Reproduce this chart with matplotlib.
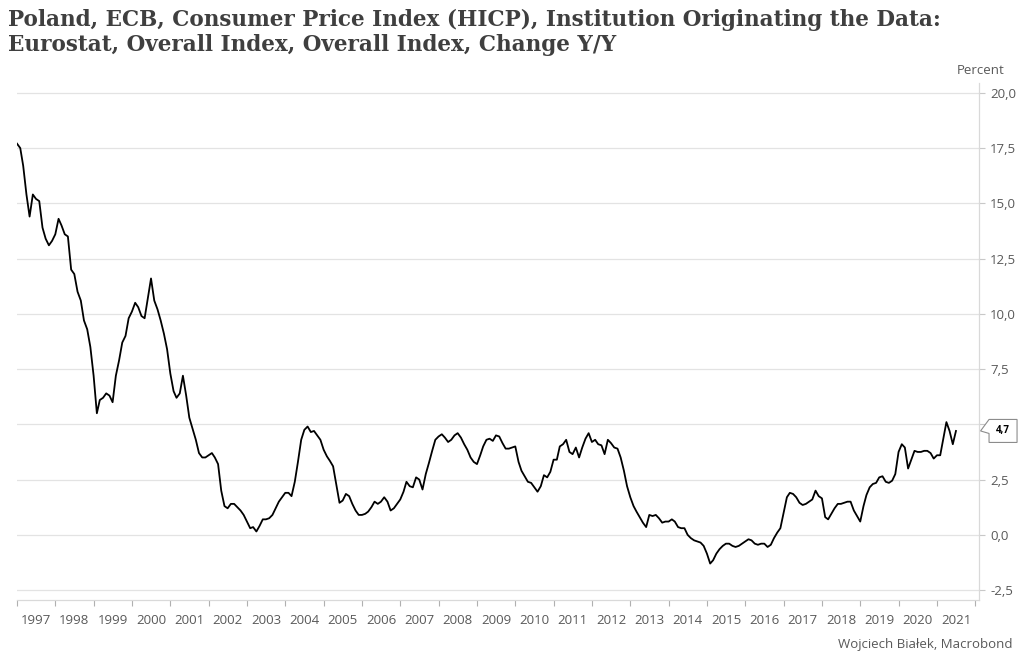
import numpy as np
import pandas as pd
import matplotlib
matplotlib.use("Agg")
import matplotlib.pyplot as plt
import matplotlib.transforms as mtransforms
from matplotlib.patches import Polygon

# Poland HICP, change y/y in percent, monthly from Jan 1997
start = "1997-01-01"
yoy = [
    17.7, 17.5, 16.7, 15.4, 14.4, 15.4, 15.2, 15.1, 13.9, 13.4, 13.1, 13.3,  # 1997
    13.6, 14.3, 14.0, 13.6, 13.5, 12.0, 11.8, 11.0, 10.6, 9.7, 9.3, 8.5,  # 1998
    7.2, 5.5, 6.1, 6.2, 6.4, 6.3, 6.0, 7.2, 7.9, 8.7, 9.0, 9.8,  # 1999
    10.1, 10.5, 10.3, 9.9, 9.8, 10.7, 11.6, 10.6, 10.2, 9.7, 9.1, 8.4,  # 2000
    7.3, 6.5, 6.2, 6.4, 7.2, 6.3, 5.3, 4.8, 4.3, 3.7, 3.5, 3.5,  # 2001
    3.6, 3.7, 3.5, 3.2, 2.0, 1.3, 1.2, 1.4, 1.4, 1.25, 1.1, 0.9,  # 2002
    0.6, 0.3, 0.35, 0.15, 0.4, 0.7, 0.7, 0.75, 0.9, 1.2, 1.5, 1.7,  # 2003
    1.9, 1.9, 1.75, 2.4, 3.3, 4.3, 4.75, 4.9, 4.65, 4.7, 4.5, 4.3,  # 2004
    3.85, 3.55, 3.35, 3.1, 2.3, 1.45, 1.55, 1.85, 1.75, 1.4, 1.1, 0.9,  # 2005
    0.9, 0.95, 1.05, 1.25, 1.5, 1.4, 1.5, 1.7, 1.5, 1.1, 1.2, 1.4,  # 2006
    1.6, 1.95, 2.4, 2.2, 2.15, 2.6, 2.5, 2.05, 2.75, 3.25, 3.8, 4.3,  # 2007
    4.45, 4.55, 4.4, 4.2, 4.3, 4.5, 4.6, 4.4, 4.1, 3.85, 3.5, 3.3,  # 2008
    3.2, 3.6, 4.0, 4.3, 4.35, 4.25, 4.5, 4.45, 4.15, 3.9, 3.9, 3.95,  # 2009
    4.0, 3.3, 2.9, 2.65, 2.4, 2.35, 2.15, 1.95, 2.2, 2.7, 2.6, 2.85,  # 2010
    3.4, 3.4, 4.0, 4.1, 4.3, 3.75, 3.65, 3.95, 3.5, 3.95, 4.35, 4.6,  # 2011
    4.2, 4.3, 4.1, 4.05, 3.65, 4.3, 4.15, 3.95, 3.9, 3.5, 2.9, 2.2,  # 2012
    1.7, 1.3, 1.05, 0.8, 0.55, 0.35, 0.9, 0.85, 0.9, 0.75, 0.55, 0.6,  # 2013
    0.6, 0.7, 0.6, 0.35, 0.3, 0.3, 0.0, -0.15, -0.25, -0.3, -0.35, -0.5,  # 2014
    -0.85, -1.3, -1.15, -0.85, -0.65, -0.5, -0.4, -0.4, -0.5, -0.55, -0.5, -0.4,  # 2015
    -0.3, -0.2, -0.25, -0.4, -0.45, -0.4, -0.4, -0.55, -0.45, -0.15, 0.1, 0.3,  # 2016
    1.0, 1.7, 1.9, 1.85, 1.7, 1.45, 1.35, 1.4, 1.5, 1.6, 2.0, 1.75,  # 2017
    1.65, 0.8, 0.7, 0.95, 1.2, 1.4, 1.4, 1.45, 1.5, 1.5, 1.1, 0.85,  # 2018
    0.6, 1.3, 1.8, 2.15, 2.3, 2.35, 2.6, 2.65, 2.4, 2.35, 2.45, 2.75,  # 2019
    3.75, 4.1, 3.95, 3.0, 3.4, 3.8, 3.75, 3.75, 3.8, 3.8, 3.7, 3.45,  # 2020
    3.6, 3.6, 4.3, 5.1, 4.7, 4.1, 4.7,  # 2021
]
years = list(range(1997, 2022))
yticks = [-2.5, 0.0, 2.5, 5.0, 7.5, 10.0, 12.5, 15.0, 17.5, 20.0]

title = ("Poland, ECB, Consumer Price Index (HICP), Institution Originating the Data:\n"
         "Eurostat, Overall Index, Overall Index, Change Y/Y")
source = "Wojciech Białek, Macrobond"

dates = pd.date_range(start, periods=len(yoy), freq="MS")
last = yoy[-1]

grey_txt = "#595959"
grid_col = "#e3e3e3"

fig = plt.figure(figsize=(10.24, 6.63), dpi=100)
ax = fig.add_axes([0.0166, 0.095, 0.9395, 0.78])

ax.plot(dates, yoy, color="black", lw=1.3, zorder=3)

ax.set_ylim(-2.95, 20.45)
ax.set_xlim(pd.Timestamp("1997-01-01"), pd.Timestamp("2022-02-06"))

# the 5,0 label sits under the last-value callout, so it is left blank
ax.set_yticks(yticks)
ax.yaxis.tick_right()
ylabels = [f"{v:.1f}".replace(".", ",") for v in yticks]
ylabels = ["" if abs(v - last) < 1.0 else s for v, s in zip(yticks, ylabels)]
ax.set_yticklabels(ylabels)
ax.tick_params(axis="y", which="both", length=4, width=0.8, color="#c8c8c8",
               labelcolor=grey_txt, labelsize=9.5, pad=4)
for v in yticks:
    ax.axhline(v, color=grid_col, lw=0.9, zorder=1)

# year ticks at year boundaries, labels in the middle of each year
ax.set_xticks([pd.Timestamp(f"{y}-01-01") for y in years + [2022]])
ax.set_xticklabels([])
ax.set_xticks([pd.Timestamp(f"{y}-07-02") for y in years], minor=True)
ax.set_xticklabels([str(y) for y in years], minor=True)
ax.tick_params(axis="x", which="major", length=4, width=0.8, color="#b0b0b0")
ax.tick_params(axis="x", which="minor", length=0, labelcolor=grey_txt,
               labelsize=9.5, pad=10)

for s in ["top", "left"]:
    ax.spines[s].set_visible(False)
ax.spines["right"].set_color("#d9d9d9")
ax.spines["bottom"].set_color("#d9d9d9")
ax.spines["right"].set_linewidth(0.9)
ax.spines["bottom"].set_linewidth(0.9)

for t in ax.get_xticklabels(minor=True) + ax.get_yticklabels():
    t.set_fontfamily("Open Sans")

fig.text(0.008, 0.987, title, ha="left", va="top", fontsize=15.5,
         fontweight="bold", family="DejaVu Serif", color="#3f3f3f",
         linespacing=1.2)
fig.text(0.981, 0.884, "Percent", ha="right", va="bottom", fontsize=9.5,
         color=grey_txt, family="Open Sans")
fig.text(0.989, 0.018, source, ha="right", va="bottom", fontsize=9.5,
         color=grey_txt, family="Open Sans")

# last value callout on the right axis
base = mtransforms.blended_transform_factory(ax.transAxes, ax.transData)
px, py = base.transform((1.0, last))
k = fig.dpi / 100.0
pts = np.array([[1.5, 0], [10, 11.5], [38, 11.5], [38, -11.5], [10, -11.5], [10, -2.5]])
tr = mtransforms.Affine2D().scale(k).translate(px, py)
fig.patches.append(Polygon(pts, closed=True, transform=tr, facecolor="white",
                           edgecolor="#8c8c8c", lw=0.8, figure=fig))
fig.text(px + 24 * k, py, f"{last:.1f}".replace(".", ","), transform=None,
         ha="center", va="center", fontsize=7, fontweight="bold",
         color="black", family="Open Sans")

fig.savefig("out.png", dpi=100)
